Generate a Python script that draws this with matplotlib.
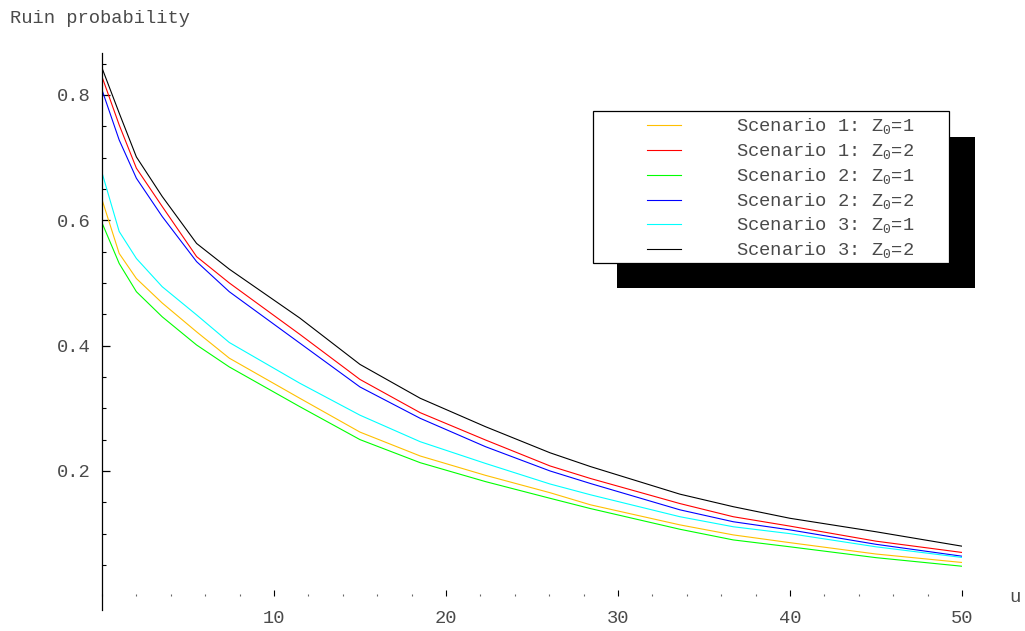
#!/usr/bin/env python3
import matplotlib
matplotlib.use('Agg')
import matplotlib.pyplot as plt
import matplotlib.ticker as mtick
from matplotlib.patches import Rectangle
from matplotlib.lines import Line2D

plt.rcParams['font.family'] = ['Liberation Mono', 'DejaVu Sans Mono']
plt.rcParams['mathtext.default'] = 'regular'

# initial reserve u
u = [0, 1, 2, 3.5, 5.5, 7.4, 11.5, 15, 18.5, 22.3, 26.05, 28.4, 33.6, 36.7, 40, 45, 50]

# ruin probabilities
s1_z1 = [0.633, 0.547, 0.507, 0.468, 0.422, 0.380, 0.316, 0.262, 0.2239, 0.193,
         0.1653, 0.146, 0.114, 0.098, 0.0856, 0.0675, 0.054]
s1_z2 = [0.829, 0.752, 0.683, 0.622, 0.542, 0.500, 0.418, 0.346, 0.293, 0.2494,
         0.208, 0.188, 0.148, 0.127, 0.112, 0.088, 0.070]
s2_z1 = [0.596, 0.531, 0.486, 0.446, 0.401, 0.366, 0.3026, 0.250, 0.2132, 0.183,
         0.1564, 0.140, 0.107, 0.090, 0.079, 0.0617, 0.048]
s2_z2 = [0.808, 0.728, 0.667, 0.606, 0.534, 0.486, 0.404, 0.334, 0.284, 0.2387,
         0.200, 0.180, 0.138, 0.119, 0.106, 0.083, 0.064]
s3_z1 = [0.676, 0.582, 0.539, 0.494, 0.449, 0.405, 0.340, 0.289, 0.2467, 0.212,
         0.1792, 0.162, 0.127, 0.111, 0.100, 0.079, 0.062]
s3_z2 = [0.843, 0.771, 0.701, 0.638, 0.563, 0.522, 0.444, 0.370, 0.316, 0.2706,
         0.229, 0.207, 0.163, 0.143, 0.1245, 0.103, 0.080]

series = [s1_z1, s1_z2, s2_z1, s2_z2, s3_z1, s3_z2]
labels = ['Scenario 1: Z$_0$=1', 'Scenario 1: Z$_0$=2',
          'Scenario 2: Z$_0$=1', 'Scenario 2: Z$_0$=2',
          'Scenario 3: Z$_0$=1', 'Scenario 3: Z$_0$=2']
colors = ['#ffc000', '#ff0000', '#00ff00', '#0000ff', '#00ffff', '#000000']

W, H = 1025, 631
TEXT = '#4a4a4a'
FS = 13.5


def fx(px):
    return px / W


def fy(py):
    return 1 - py / H


def plot_ruin():
    fig = plt.figure(figsize=(W / 100, H / 100), dpi=100)
    ax = fig.add_axes([fx(102), fy(609.8), 860 / W, (609.8 - 52.6) / H])

    for vals, col in zip(series, colors):
        ax.plot(u, vals, color=col, lw=0.8)

    ax.set_xlim(0, 50)
    ax.set_ylim(-0.0215, 0.8675)

    for side in ['top', 'right']:
        ax.spines[side].set_visible(False)
    ax.spines['bottom'].set_position(('data', 0))
    ax.spines['bottom'].set_color('none')
    ax.spines['left'].set_linewidth(0.9)

    ax.xaxis.set_major_locator(mtick.FixedLocator([10, 20, 30, 40, 50]))
    ax.xaxis.set_minor_locator(mtick.MultipleLocator(2))
    ax.yaxis.set_major_locator(mtick.FixedLocator([0.2, 0.4, 0.6, 0.8]))
    ax.yaxis.set_minor_locator(mtick.FixedLocator([i * 0.05 for i in range(1, 18)]))
    ax.yaxis.set_major_formatter(mtick.FormatStrFormatter('%.1f'))

    ax.tick_params(axis='x', which='major', direction='in', length=4, width=0.8,
                   pad=10, labelsize=FS, labelcolor=TEXT)
    ax.tick_params(axis='x', which='minor', direction='in', length=1.8, width=0.8,
                   color='#666666')
    ax.tick_params(axis='y', which='major', direction='in', length=5.5, width=0.9,
                   pad=8.5, labelsize=FS, labelcolor=TEXT)
    ax.tick_params(axis='y', which='minor', direction='in', length=2.8, width=0.8)

    ax.text(53.1, -0.009, 'u', fontsize=FS, color=TEXT, ha='center',
            va='baseline', clip_on=False)
    fig.text(fx(10), fy(22.7), 'Ruin probability', fontsize=FS, color=TEXT,
             va='baseline')

    # legend box with hard shadow
    fig.add_artist(Rectangle((fx(616.7), fy(288.3)), 358.3 / W, 151.6 / H,
                             transform=fig.transFigure, facecolor='black',
                             edgecolor='none', zorder=5))
    fig.add_artist(Rectangle((fx(592.7), fy(262.7)), 356.6 / W, 151.7 / H,
                             transform=fig.transFigure, facecolor='white',
                             edgecolor='black', lw=0.9, zorder=6))
    for i, (lab, col) in enumerate(zip(labels, colors)):
        yrow = 125 + i * 24.85
        fig.add_artist(Line2D([fx(647), fx(681)], [fy(yrow), fy(yrow)],
                              transform=fig.transFigure, color=col, lw=0.8,
                              zorder=7))
        fig.text(fx(735.5), fy(yrow + 6), lab, fontsize=FS, color=TEXT,
                 va='baseline', zorder=7)

    fig.savefig('out.png', dpi=100)


def main():
    plot_ruin()


if __name__ == '__main__':
    main()
